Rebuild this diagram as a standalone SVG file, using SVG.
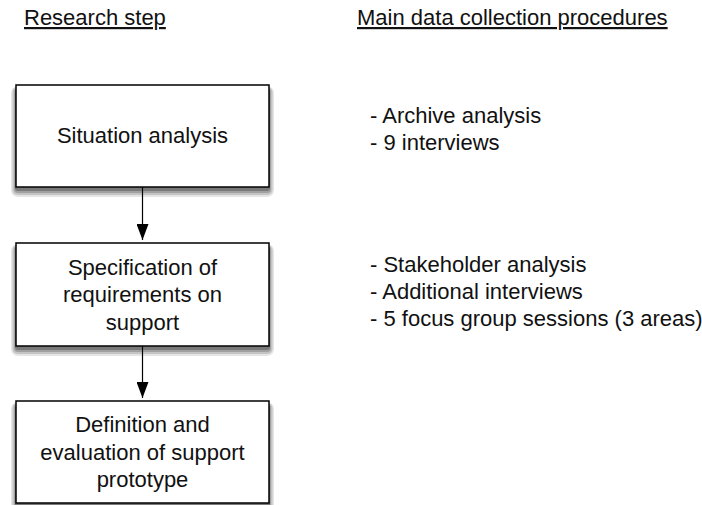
<svg xmlns="http://www.w3.org/2000/svg" width="702" height="505" viewBox="0 0 702 505">
<defs>
<marker id="ah" markerWidth="16" markerHeight="12" refX="16" refY="6" orient="auto" markerUnits="userSpaceOnUse" viewBox="0 0 16 12">
<path d="M0,0 L16,6 L0,12 Z" fill="#000"/>
</marker>
</defs>
<style>
text{font-family:"Liberation Sans",Arial,Helvetica,sans-serif;font-size:22px;fill:#111}
.box{fill:#fff;stroke:#000;stroke-width:1.5}
.c{text-anchor:middle}
.conn{stroke:#000;stroke-width:1.2;fill:none}
.s1{fill:#000;fill-opacity:0.1}
.s2{fill:#000;fill-opacity:0.14}
.s3{fill:#000;fill-opacity:0.18}
.s4{fill:#000;fill-opacity:0.24}
</style>
<rect width="702" height="505" fill="#fff"/>
<g id="headers">
<text x="24" y="25" text-decoration="underline">Research step</text>
<text x="357" y="25" text-decoration="underline">Main data collection procedures</text>
</g>
<g id="connectors">
<line class="conn" x1="142.5" y1="187" x2="142.5" y2="240" marker-end="url(#ah)"/>
<line class="conn" x1="142.5" y1="346" x2="142.5" y2="398" marker-end="url(#ah)"/>
</g>
<g id="n1">
<g>
<rect class="s1" x="11" y="86" width="263" height="111" rx="7"/>
<rect class="s2" x="12.5" y="87" width="260" height="108" rx="5"/>
<rect class="s3" x="14" y="88" width="257" height="105" rx="4"/>
<rect class="s4" x="15" y="89" width="255" height="102" rx="3"/>
</g>
<rect class="box" x="16" y="85" width="253" height="102"/>
<text class="c" x="142.5" y="143">Situation analysis</text>
</g>
<g id="n2">
<g>
<rect class="s1" x="11" y="244" width="263" height="112" rx="7"/>
<rect class="s2" x="12.5" y="245" width="260" height="109" rx="5"/>
<rect class="s3" x="14" y="246" width="257" height="106" rx="4"/>
<rect class="s4" x="15" y="247" width="255" height="103" rx="3"/>
</g>
<rect class="box" x="16" y="243" width="253" height="103"/>
<text class="c" x="142.5" y="274.5">Specification of</text>
<text class="c" x="142.5" y="302">requirements on</text>
<text class="c" x="142.5" y="329.5">support</text>
</g>
<g id="n3">
<g>
<rect class="s1" x="11" y="402" width="263" height="111" rx="7"/>
<rect class="s2" x="12.5" y="403" width="260" height="108" rx="5"/>
<rect class="s3" x="14" y="404" width="257" height="105" rx="4"/>
<rect class="s4" x="15" y="405" width="255" height="102" rx="3"/>
</g>
<rect class="box" x="16" y="401" width="253" height="102"/>
<text class="c" x="142.5" y="432">Definition and</text>
<text class="c" x="142.5" y="459.5">evaluation of support</text>
<text class="c" x="142.5" y="487">prototype</text>
</g>
<g id="list1">
<text x="370" y="123">- Archive analysis</text>
<text x="370" y="150">- 9 interviews</text>
</g>
<g id="list2">
<text x="370" y="272">- Stakeholder analysis</text>
<text x="370" y="299">- Additional interviews</text>
<text x="370" y="326">- 5 focus group sessions (3 areas)</text>
</g>
</svg>
